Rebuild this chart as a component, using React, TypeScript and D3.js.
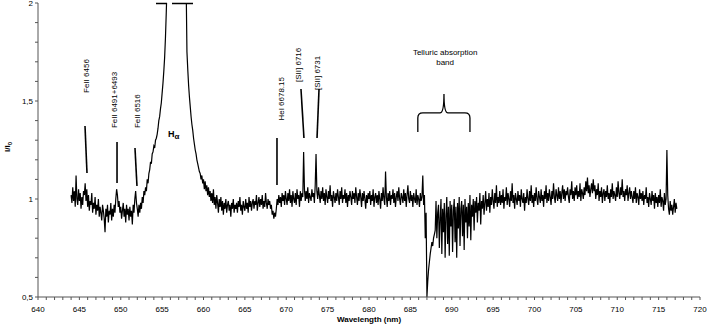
import React, { useEffect, useRef } from "react";
import * as d3 from "d3";

// spectrum sampled every 0.1 nm from 644.0 nm (one row per nm)
const startNm = 644.0;
const stepNm = 0.1;
const intensity = [
  1.02, 0.98, 1.06, 0.99, 1.04, 0.96, 1.12, 1.00, 0.97, 1.05,
  0.99, 1.03, 0.95, 1.01, 0.97, 1.04, 1.02, 1.08, 0.99, 1.05,
  0.96, 1.02, 0.94, 0.99, 0.97, 1.03, 0.93, 0.98, 0.95, 1.01,
  0.92, 0.97, 0.94, 1.00, 0.91, 0.96, 0.93, 0.89, 0.97, 0.94,
  0.90, 0.83, 0.95, 0.91, 0.97, 0.88, 0.94, 0.92, 0.98, 0.89,
  0.95, 0.91, 0.97, 0.93, 1.00, 1.05, 1.02, 0.96, 0.99, 0.93,
  0.96, 0.90, 0.94, 0.98, 0.91, 0.95, 0.88, 0.97, 0.92, 0.95,
  0.89, 0.96, 0.91, 0.94, 0.87, 0.97, 0.93, 1.00, 1.04, 0.98,
  0.95, 0.91, 0.97, 0.93, 0.98, 0.95, 1.01, 0.98, 1.04, 1.02,
  1.06, 1.04, 1.10, 1.08, 1.13, 1.15, 1.19, 1.18, 1.23, 1.24,
  1.27, 1.26, 1.30, 1.31, 1.33, 1.36, 1.40, 1.42, 1.46, 1.49,
  1.54, 1.59, 1.65, 1.72, 1.82, 1.95, 2.10, 2.30, 2.50, 2.60,
  2.70, 2.80, 2.90, 2.95, 3.00, 3.00, 2.95, 2.90, 2.85, 2.80,
  2.75, 2.70, 2.65, 2.60, 2.55, 2.50, 2.40, 2.30, 2.20, 2.10,
  1.75, 1.66, 1.58, 1.52, 1.47, 1.42, 1.38, 1.35, 1.31, 1.28,
  1.25, 1.23, 1.20, 1.18, 1.16, 1.14, 1.13, 1.10, 1.12, 1.08,
  1.10, 1.05, 1.09, 1.04, 1.07, 1.02, 1.06, 1.01, 1.04, 0.99,
  1.03, 0.98, 1.05, 0.97, 1.01, 0.95, 1.02, 0.98, 0.93, 1.00,
  0.96, 1.01, 0.94, 0.99, 0.92, 0.98, 0.95, 1.00, 0.93, 0.97,
  0.99, 0.94, 0.97, 0.91, 0.98, 0.95, 1.00, 0.93, 0.97, 0.95,
  0.98, 0.93, 0.99, 0.96, 1.01, 0.94, 0.97, 0.92, 0.99, 0.96,
  0.94, 1.00, 0.95, 0.98, 0.93, 1.01, 0.96, 0.99, 0.94, 0.98,
  1.00, 0.95, 0.99, 0.97, 1.02, 0.94, 0.98, 1.01, 0.96, 1.00,
  0.97, 1.02, 0.95, 0.99, 0.96, 1.03, 0.98, 0.95, 1.00, 0.97,
  0.99, 0.95, 0.97, 0.92, 0.94, 0.90, 0.93, 0.91, 0.95, 1.00,
  0.97, 1.02, 0.98, 1.01, 0.96, 1.03, 0.99, 1.02, 0.97, 1.04,
  1.00, 0.97, 1.03, 0.99, 1.05, 0.98, 1.02, 0.96, 1.04, 1.00,
  0.98, 1.03, 0.97, 1.05, 1.00, 1.02, 0.96, 1.04, 0.99, 1.03,
  1.01, 1.24, 1.05, 0.99, 1.04, 1.00, 1.06, 0.98, 1.03, 1.01,
  0.99, 1.05, 1.01, 1.03, 0.98, 1.07, 1.23, 1.04, 1.00, 1.06,
  1.02, 0.98, 1.04, 1.00, 1.06, 0.99, 1.03, 0.97, 1.05, 1.01,
  0.98, 1.04, 1.00, 1.07, 0.99, 1.02, 0.96, 1.04, 1.01, 0.98,
  1.03, 0.99, 1.05, 1.01, 0.97, 1.04, 1.00, 1.06, 0.98, 1.02,
  1.00, 1.05, 0.98, 1.03, 0.96, 1.02, 0.99, 1.04, 1.01, 0.97,
  1.04, 1.00, 1.03, 0.98, 1.06, 1.01, 0.97, 1.03, 0.99, 1.05,
  1.01, 0.96, 1.03, 0.99, 1.04, 1.00, 0.95, 1.02, 0.98, 1.03,
  1.00, 1.04, 0.97, 1.02, 0.99, 1.05, 0.96, 1.01, 1.03, 0.98,
  1.02, 0.97, 1.04, 1.00, 0.95, 1.03, 0.99, 1.06, 1.00, 0.97,
  1.14, 1.01, 0.96, 1.03, 0.99, 1.04, 0.97, 1.02, 1.00, 1.05,
  0.98, 1.03, 0.96, 1.01, 1.04, 0.99, 1.06, 1.00, 0.97, 1.03,
  1.01, 0.98, 1.05, 0.99, 1.03, 0.96, 1.02, 1.07, 1.00, 0.98,
  1.04, 0.99, 1.02, 0.96, 1.03, 1.00, 0.98, 1.05, 0.97, 1.02,
  1.00, 0.96, 1.03, 0.99, 1.01, 1.12, 0.97, 1.02, 0.80, 0.93,
  0.50, 0.58, 0.64, 0.68, 0.72, 0.75, 0.78, 0.76, 0.80, 0.82,
  0.84, 0.99, 0.80, 0.93, 0.97, 0.75, 0.90, 1.00, 0.72, 0.95,
  0.83, 0.98, 0.70, 0.92, 1.01, 0.77, 0.96, 0.71, 0.99, 0.86,
  0.97, 0.73, 0.94, 1.00, 0.78, 0.96, 0.70, 0.98, 0.85, 1.01,
  0.76, 0.95, 0.99, 0.81, 0.97, 0.74, 1.00, 0.88, 0.96, 0.80,
  0.98, 0.86, 1.02, 0.79, 0.97, 0.91, 1.00, 0.84, 0.99, 0.93,
  1.01, 0.88, 0.98, 0.94, 1.03, 0.87, 0.99, 0.95, 1.02, 0.92,
  0.98, 1.04, 0.94, 1.00, 0.96, 1.03, 0.93, 1.01, 0.97, 1.05,
  0.99, 0.95, 1.03, 0.98, 1.07, 0.96, 1.01, 0.98, 1.04, 0.97,
  1.02, 0.98, 1.05, 0.95, 1.01, 0.99, 1.06, 0.97, 1.03, 1.00,
  0.96, 1.04, 0.99, 1.08, 0.98, 1.02, 0.95, 1.03, 1.00, 0.97,
  1.04, 0.99, 1.02, 0.96, 1.05, 1.00, 0.98, 1.03, 0.94, 1.01,
  0.98, 1.05, 1.00, 0.97, 1.04, 0.99, 1.07, 0.98, 1.02, 0.96,
  1.03, 0.99, 1.06, 1.00, 0.97, 1.04, 1.01, 0.98, 1.05, 0.99,
  1.02, 0.96, 1.04, 1.00, 1.07, 0.98, 1.03, 0.99, 1.05, 1.01,
  0.97, 1.04, 1.00, 1.08, 1.01, 0.98, 1.05, 1.02, 0.99, 1.06,
  1.00, 1.04, 0.98, 1.03, 1.07, 1.00, 1.05, 0.99, 1.04, 1.02,
  1.06, 1.01, 0.98, 1.05, 1.02, 1.09, 1.00, 1.04, 0.99, 1.06,
  1.02, 1.07, 1.00, 1.04, 1.01, 1.08, 0.99, 1.05, 1.03, 1.00,
  1.06, 1.02, 1.09, 1.04, 1.11, 1.03, 1.07, 1.01, 1.05, 1.08,
  1.03, 1.10, 1.04, 1.07, 1.00, 1.05, 1.02, 1.08, 0.99, 1.04,
  1.01, 1.06, 0.98, 1.03, 1.05, 0.99, 1.04, 1.01, 1.07, 1.00,
  1.03, 0.98, 1.05, 1.01, 1.08, 1.00, 1.04, 1.02, 0.99, 1.06,
  1.01, 1.09, 1.03, 1.00, 1.06, 1.02, 1.10, 1.01, 1.04, 0.99,
  1.05, 1.02, 1.07, 0.99, 1.03, 1.06, 1.00, 1.04, 1.01, 0.98,
  1.04, 1.00, 1.06, 0.98, 1.03, 1.01, 0.97, 1.05, 1.00, 1.03,
  0.99, 1.04, 0.97, 1.02, 1.00, 1.06, 0.98, 1.01, 0.96, 1.03,
  1.00, 0.97, 1.04, 0.99, 1.02, 0.95, 1.03, 0.98, 1.01, 0.96,
  1.02, 0.98, 1.05, 0.96, 1.01, 0.99, 0.94, 1.03, 0.97, 1.00,
  1.25, 1.02, 0.95, 0.92, 0.99, 0.94, 0.97, 0.92, 0.96, 1.00,
  0.93, 0.98, 0.95
];

const xTicks = d3.range(640, 721, 5);
const yTicks = [0.5, 1, 1.5, 2];

// rotated line labels: text, x (nm), bottom of text (I/I0)
const lineLabels = [
  { text: "FeII 6456", nm: 645.8, at: 1.541 },
  { text: "FeII 6491+6493", nm: 649.2, at: 1.362 },
  { text: "FeII 6516", nm: 652.0, at: 1.362 },
  { text: "HeI 6678.15", nm: 669.4, at: 1.40 },
  { text: "[SII] 6716", nm: 671.4, at: 1.597 },
  { text: "[SII] 6731", nm: 673.7, at: 1.556 }
];

// leader lines: [nm1, v1, nm2, v2]
const leaders = [
  [645.68, 1.372, 645.92, 1.133],
  [649.55, 1.291, 649.55, 1.082],
  [651.72, 1.26, 651.96, 1.066],
  [668.88, 1.311, 668.88, 1.071],
  [671.78, 1.561, 672.14, 1.311],
  [673.96, 1.561, 673.72, 1.311]
];

// cut marks on top of H-alpha
const topMarks = [
  [654.26, 655.59],
  [656.19, 658.73]
];

export default function App() {
  const ref = useRef<SVGSVGElement>(null);

  useEffect(() => {
    const width = 708;
    const height = 327;
    const margin = { top: 3, right: 8, bottom: 30, left: 38 };

    const svg = d3.select(ref.current);
    svg.selectAll("*").remove();

    const x = d3.scaleLinear().domain([640, 720]).range([margin.left, width - margin.right]);
    const y = d3.scaleLinear().domain([0.5, 2]).range([height - margin.bottom, margin.top]);

    const font = "'Liberation Sans', Arial, sans-serif";
    const axisColor = "#555";

    // ==========================
    // SPECTRUM
    // ==========================
    svg.append("defs").append("clipPath").attr("id", "plot-clip")
      .append("rect")
      .attr("x", margin.left)
      .attr("y", margin.top)
      .attr("width", width - margin.left - margin.right)
      .attr("height", height - margin.top - margin.bottom);

    const line = d3.line<number>()
      .x((d, i) => x(startNm + i * stepNm))
      .y(d => y(d));

    svg.append("path")
      .attr("clip-path", "url(#plot-clip)")
      .attr("d", line(intensity))
      .attr("fill", "none")
      .attr("stroke", "#000")
      .attr("stroke-width", 1.2);

    // ==========================
    // AXES
    // ==========================
    const y0 = y(0.5);
    svg.append("line")
      .attr("x1", x(640)).attr("x2", x(720))
      .attr("y1", y0).attr("y2", y0)
      .attr("stroke", axisColor);
    svg.append("line")
      .attr("x1", x(640)).attr("x2", x(640))
      .attr("y1", y(2)).attr("y2", y0)
      .attr("stroke", axisColor);

    svg.selectAll(".xminor")
      .data(d3.range(640, 721, 1))
      .enter()
      .append("line")
      .attr("x1", d => x(d)).attr("x2", d => x(d))
      .attr("y1", y0).attr("y2", y0 + 3)
      .attr("stroke", axisColor);

    svg.selectAll(".yminor")
      .data(d3.range(5, 21, 1).map(d => d / 10))
      .enter()
      .append("line")
      .attr("x1", x(640) - 3).attr("x2", x(640))
      .attr("y1", d => y(d)).attr("y2", d => y(d))
      .attr("stroke", axisColor);

    svg.selectAll(".xlabel")
      .data(xTicks)
      .enter()
      .append("text")
      .attr("x", d => x(d))
      .attr("y", y0 + 15)
      .attr("text-anchor", "middle")
      .attr("font-family", font)
      .attr("font-size", 8)
      .text(d => d);

    svg.selectAll(".ylabel")
      .data(yTicks)
      .enter()
      .append("text")
      .attr("x", x(640) - 5)
      .attr("y", d => y(d) + 3)
      .attr("text-anchor", "end")
      .attr("font-family", font)
      .attr("font-size", 8)
      .text(d => String(d).replace(".", ","));

    svg.append("text")
      .attr("x", (x(640) + x(720)) / 2)
      .attr("y", height - 5)
      .attr("text-anchor", "middle")
      .attr("font-family", font)
      .attr("font-size", 8)
      .attr("font-weight", "bold")
      .text("Wavelength (nm)");

    const yt = svg.append("text")
      .attr("transform", `translate(10, ${(y(2) + y0) / 2 - 3}) rotate(-90)`)
      .attr("text-anchor", "middle")
      .attr("font-family", font)
      .attr("font-size", 8)
      .attr("font-weight", "bold");
    yt.append("tspan").text("I/I");
    yt.append("tspan").attr("font-size", 6).attr("dy", 2).text("0");

    // ==========================
    // ANNOTATIONS
    // ==========================
    svg.selectAll(".leader")
      .data(leaders)
      .enter()
      .append("line")
      .attr("x1", d => x(d[0])).attr("y1", d => y(d[1]))
      .attr("x2", d => x(d[2])).attr("y2", d => y(d[3]))
      .attr("stroke", "#000")
      .attr("stroke-width", 1.6);

    svg.selectAll(".tag")
      .data(lineLabels)
      .enter()
      .append("text")
      .attr("transform", d => `translate(${x(d.nm)}, ${y(d.at)}) rotate(-90)`)
      .attr("dy", "0.35em")
      .attr("font-family", font)
      .attr("font-size", 8)
      .text(d => d.text);

    svg.selectAll(".topmark")
      .data(topMarks)
      .enter()
      .append("line")
      .attr("x1", d => x(d[0])).attr("x2", d => x(d[1]))
      .attr("y1", y(2) + 0.5).attr("y2", y(2) + 0.5)
      .attr("stroke", "#000")
      .attr("stroke-width", 1.5);

    const ha = svg.append("text")
      .attr("x", x(655.7))
      .attr("y", y(1.316))
      .attr("font-family", font)
      .attr("font-size", 9)
      .attr("font-weight", "bold");
    ha.append("tspan").text("H");
    ha.append("tspan").attr("dy", 2).attr("font-size", 8).text("α");

    svg.selectAll(".telluric")
      .data(["Telluric absorption", "band"])
      .enter()
      .append("text")
      .attr("x", x(689.2))
      .attr("y", (d, i) => y(i === 0 ? 1.735 : 1.684))
      .attr("text-anchor", "middle")
      .attr("font-family", font)
      .attr("font-size", 8)
      .text(d => d);

    // brace over the band
    const bl = x(685.9), br = x(692.2), bc = x(689.06);
    const bBot = y(1.342), bTop = y(1.439), bPeak = y(1.536);
    const p = d3.path();
    p.moveTo(bl, bBot);
    p.lineTo(bl, bTop + 5);
    p.quadraticCurveTo(bl, bTop, bl + 5, bTop);
    p.lineTo(bc - 4, bTop);
    p.quadraticCurveTo(bc, bTop, bc, bPeak);
    p.quadraticCurveTo(bc, bTop, bc + 4, bTop);
    p.lineTo(br - 5, bTop);
    p.quadraticCurveTo(br, bTop, br, bTop + 5);
    p.lineTo(br, bBot);
    svg.append("path")
      .attr("d", p.toString())
      .attr("fill", "none")
      .attr("stroke", "#000")
      .attr("stroke-width", 1.3);
  }, []);

  return (
    <div style={{ position: "absolute", left: 0, top: 0 }}>
      <svg ref={ref} width={708} height={327} style={{ display: "block", background: "#fff" }} />
    </div>
  );
}
